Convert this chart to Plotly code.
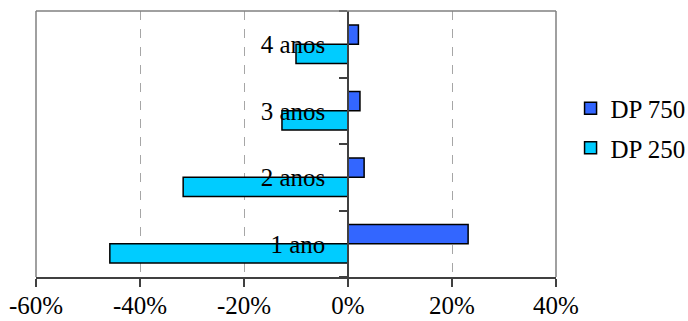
import plotly.graph_objects as go

# Data
categories = ["1 ano", "2 anos", "3 anos", "4 anos"]
dp250 = [-45.8, -31.7, -12.7, -10.0]
dp750 = [23.1, 3.1, 2.3, 2.0]
x_ticks = [-60, -40, -20, 0, 20, 40]

FONT = "Liberation Serif, Times New Roman, serif"
FS = 25

fig = go.Figure()
fig.add_trace(go.Bar(
    y=categories, x=dp250, orientation="h", name="DP 250",
    legendgroup="g250", legendrank=2,
    marker=dict(color="#00CCFF", line=dict(color="black", width=1.5)),
))
fig.add_trace(go.Bar(
    y=categories, x=dp750, orientation="h", name="DP 750",
    legendgroup="g750", legendrank=1,
    marker=dict(color="#3366FF", line=dict(color="black", width=1.5)),
))

# frame around the plot area (left, top, right)
for x0, y0, x1, y1 in [(0, 0, 0, 1), (0, 1, 1, 1), (1, 0, 1, 1)]:
    fig.add_shape(type="line", xref="paper", yref="paper",
                  x0=x0, y0=y0, x1=x1, y1=y1,
                  line=dict(color="#808080", width=1.5))

fig.update_layout(
    width=688, height=321,
    margin=dict(l=36, r=132, t=11, b=44, autoexpand=False),
    paper_bgcolor="white", plot_bgcolor="white",
    barmode="group", bargap=0.42, bargroupgap=0,
    font=dict(family=FONT, size=FS, color="black"),
    showlegend=True,
    legend=dict(x=1.028, y=0.56, xanchor="left", yanchor="middle",
                traceorder="grouped", tracegroupgap=4,
                font=dict(size=FS), bgcolor="rgba(0,0,0,0)"),
    xaxis=dict(
        range=[-60, 40], tickvals=x_ticks,
        ticktext=[f"{v}%" for v in x_ticks],
        showgrid=True, gridcolor="#a6a6a6", griddash="dash", gridwidth=1,
        zeroline=False,
        showline=True, linecolor="#404040", linewidth=1.5,
        ticks="outside", ticklen=8, tickcolor="#404040", tickwidth=1.5,
        ticklabelstandoff=-3,
        tickfont=dict(size=FS),
    ),
    yaxis=dict(
        type="category", anchor="free", position=0.6,
        showgrid=False, zeroline=False,
        showline=True, linecolor="#404040", linewidth=1.5,
        ticks="outside", ticklen=8, tickcolor="#404040", tickwidth=1.5,
        tickson="boundaries", ticklabelstandoff=17,
        tickfont=dict(size=FS),
    ),
)

fig.write_html("out.html")
